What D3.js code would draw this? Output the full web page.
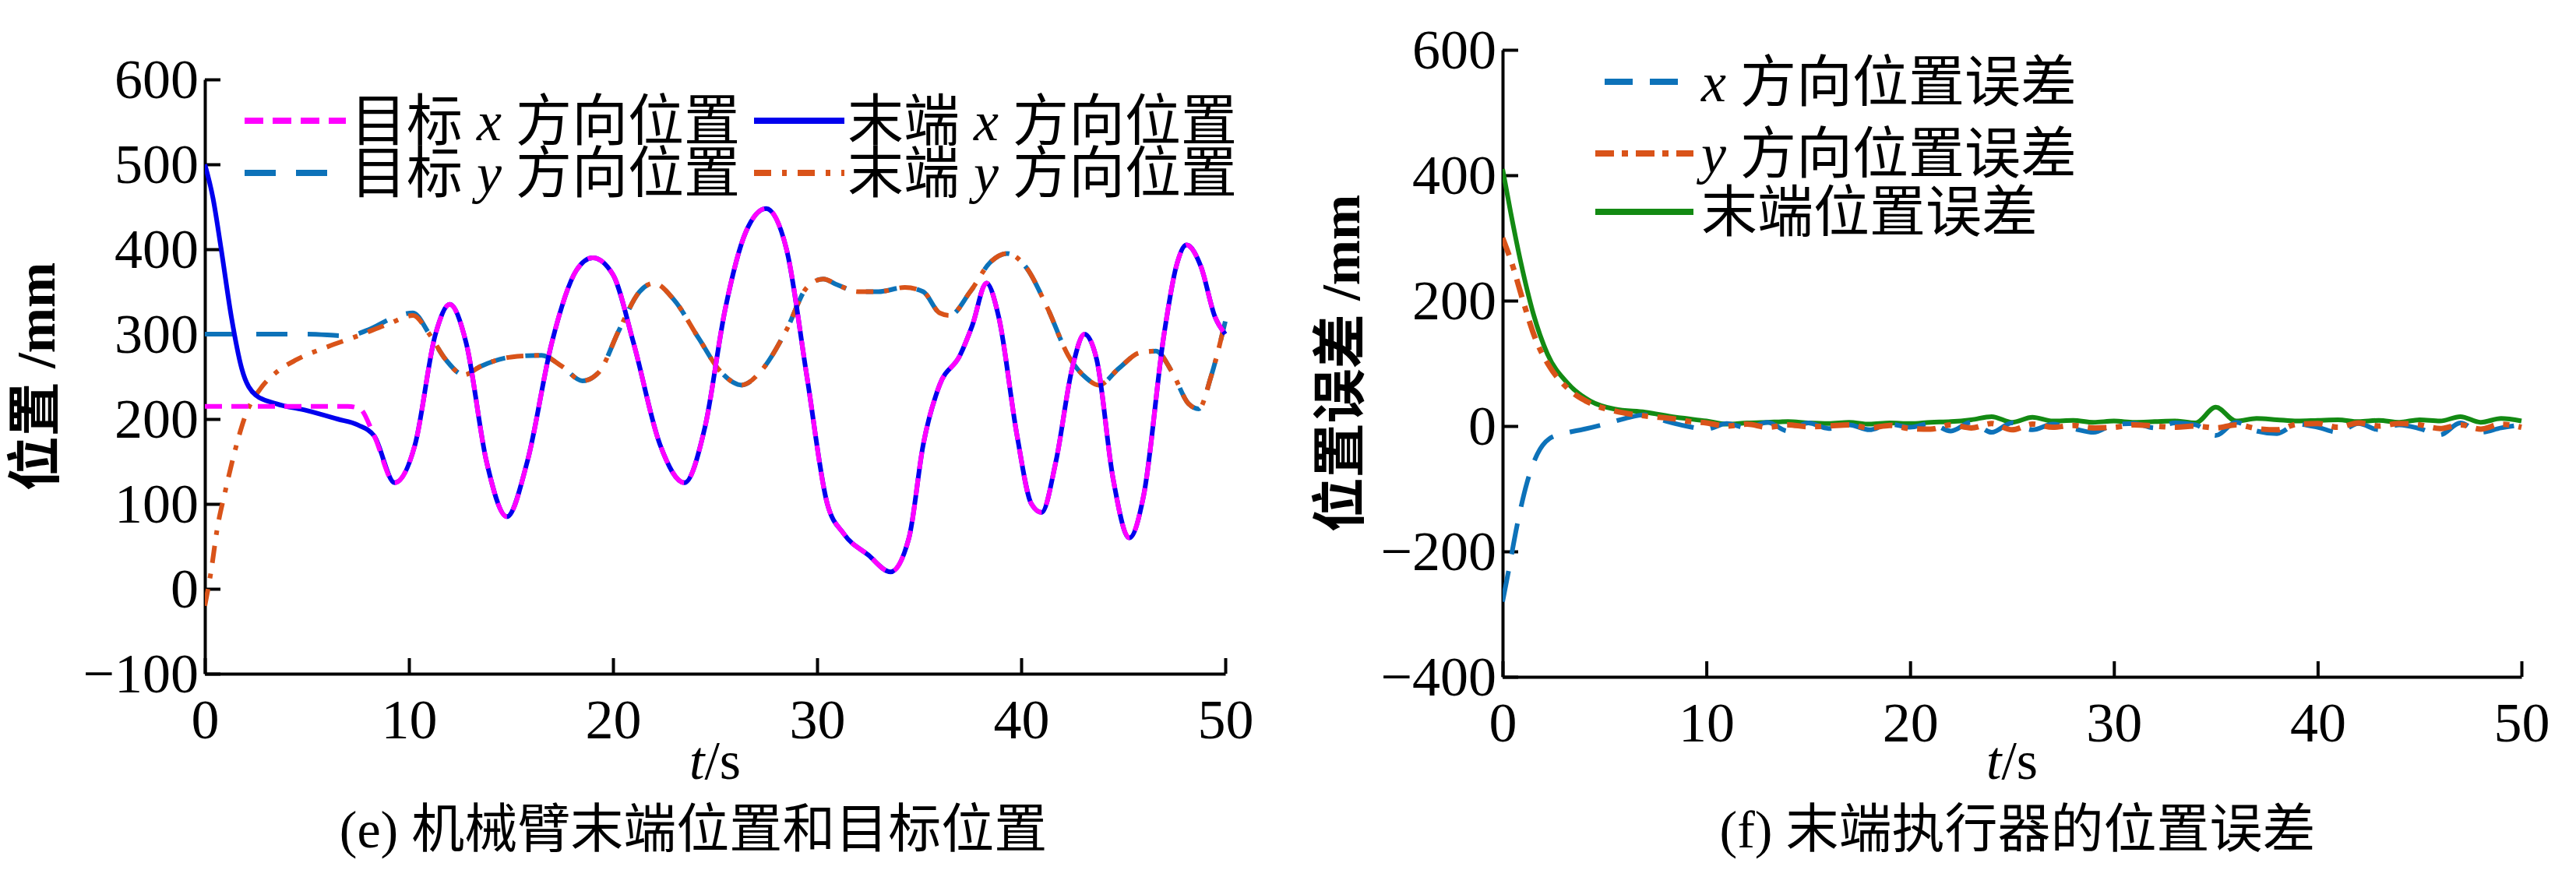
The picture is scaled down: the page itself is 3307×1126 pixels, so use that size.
<!DOCTYPE html>
<html><head><meta charset="utf-8">
<script src="https://cdn.jsdelivr.net/npm/d3@7"></script>
<style>body{margin:0;background:#fff}svg{display:block}</style></head>
<body><svg id="c" width="3307" height="1126"></svg>
<script>
// ---- data ----
const targetX = [[0,215],[7,215],[7.6,212],[8.3,180],[9.3,125],[10.3,170],[11.3,300],[12,335],[12.8,290],[13.8,150],[14.8,85],[15.8,150],[17,290],[18.2,375],[19,390],[20,370],[21,290],[22.3,170],[23.5,125],[24.5,190],[25.5,330],[26.5,420],[27.5,448],[28.5,400],[29.5,250],[30.5,100],[31.3,65],[32.5,40],[33.6,20],[34.5,60],[35.2,170],[36,240],[37,275],[37.6,310],[38.3,360],[38.9,320],[39.8,180],[40.5,100],[41,90],[41.7,150],[42.5,260],[43.1,300],[43.7,270],[44.5,130],[45.3,60],[46,110],[47,300],[47.6,380],[48.1,405],[48.8,380],[49.5,320],[50,300]];
const endXStart = [[0,500],[0.4,460],[0.8,400],[1.3,320],[1.8,260],[2.5,228],[3.5,218],[5,210],[6.5,200],[7.5,193],[8.3,180]];
const targetY = [[0,300],[5,300],[7,298],[8,305],[9.3,320],[10.2,325],[11,300],[11.8,270],[12.7,252],[13.5,262],[15,273],[16.5,275],[17.5,262],[18.5,245],[19.3,255],[20.3,305],[21.3,350],[22,360],[23,340],[24.2,295],[25.3,255],[26.3,240],[27.3,258],[28.5,305],[29.5,355],[30.3,365],[31,358],[32,350],[33,350],[34.3,355],[35.2,350],[36,325],[36.5,322],[37.5,350],[38.5,385],[39.3,395],[40.2,380],[41.3,330],[42.3,275],[43.2,248],[43.8,240],[44.8,260],[45.8,278],[46.6,280],[47.4,255],[48.2,218],[48.7,212],[49.3,250],[50,315]];
const endYStart = [[0,-20],[0.3,20],[0.6,70],[1,115],[1.5,165],[2,205],[2.7,235],[3.5,255],[4.5,270],[6,285],[7.5,298],[9,312],[10.2,322]];
const errXStart = [[0,-280],[0.3,-230],[0.7,-160],[1.2,-90],[1.7,-45],[2.3,-20],[3,-12],[4,-5],[5,3],[6,12],[7,18],[8,8]];
const errYStart = [[0,300],[0.5,255],[1,200],[1.6,140],[2.3,95],[3.2,60],[4.2,38],[5.5,24],[7,16],[8.5,11]];
const errTStart = [[0,410],[0.4,340],[0.9,260],[1.5,180],[2.2,115],[3.2,68],[4.3,40],[5.5,27],[7,22],[8.5,14]];
const noiseT = [9,10,11,12,13,14,15,16,17,18,19,20,21,22,23,24,25,26,27,28,29,30,31,32,33,34,35,36,37,38,39,40,41,42,43,44,45,46,47,48,49,50];
const noiseX = [0,-5,4,-3,6,-8,5,-4,2,-6,3,-2,4,-8,6,-10,5,-6,3,-4,-10,2,4,-3,5,2,-15,6,-8,-12,3,-2,-10,4,-6,2,-4,-14,5,-10,-3,2];
const noiseY = [8,5,0,3,-2,2,-1,0,2,-3,1,-4,-5,2,-3,4,-6,3,-2,1,-3,-2,2,0,-2,0,-3,2,-4,-6,3,4,-2,5,0,4,2,-4,2,-5,3,-2];
const noiseTot = [12,8,3,5,6,7,5,4,6,3,5,4,6,7,10,15,6,14,8,9,6,8,6,7,8,5,30,8,12,10,8,9,10,7,9,6,10,8,15,6,12,8];
const xTicks = [0,10,20,30,40,50];
const yTicksL = [-100,0,100,200,300,400,500,600];
const yTicksR = [-400,-200,0,200,400,600];

const svg = d3.select('#c');
const FONT = "'Liberation Serif','DejaVu Serif',serif";
const CJK = "'Liberation Serif','Noto Sans CJK SC',serif";

function panel(o){
  const x = d3.scaleLinear().domain([0,50]).range([o.x0,o.x1]);
  const y = d3.scaleLinear().domain(o.yd).range([o.y1,o.y0]);
  const g = svg.append('g');
  const ax = g.append('g').attr('transform',`translate(0,${o.y1})`)
    .call(d3.axisBottom(x).tickValues(xTicks).tickSizeInner(-20).tickSizeOuter(0).tickPadding(32));
  const ay = g.append('g').attr('transform',`translate(${o.x0},0)`)
    .call(d3.axisLeft(y).tickValues(o.yt).tickSizeInner(-20).tickSizeOuter(0).tickPadding(8).tickFormat(d=>d<0?'\u2212'+(-d):d));
  [ax,ay].forEach(a=>{a.attr('font-family',null).attr('font-size',null);
    a.selectAll('path,line').attr('stroke','#000').attr('stroke-width',4);
    a.selectAll('text').style('font-family',FONT).style('font-size','72px').attr('fill','#000');});
  ax.selectAll('text').attr('dy','0.71em');
  g.append('text').attr('x',(o.x0+o.x1)/2).attr('y',1000).attr('text-anchor','middle')
   .style('font-family',FONT).style('font-size','70px')
   .html('<tspan font-style="italic">t</tspan>/s');
  g.append('text').attr('transform',`translate(${o.yx},${(o.y0+o.y1)/2}) rotate(-90)`)
   .attr('text-anchor','middle').style('font-family',CJK).style('font-size','70px').attr('font-weight','bold').text(o.ylab);
  g.append('text').attr('x',o.capx).attr('y',1088).attr('text-anchor','middle')
   .style('font-family',CJK).style('font-size','68px').text(o.cap);
  const clip = 'cl'+o.x0;
  svg.append('clipPath').attr('id',clip).append('rect').attr('x',o.x0).attr('y',o.y0-20).attr('width',o.x1-o.x0+10).attr('height',o.y1-o.y0+20);
  const line = d3.line().x(d=>x(d[0])).y(d=>y(d[1])).curve(d3.curveMonotoneX);
  const pg = g.append('g').attr('clip-path',`url(#${clip})`);
  o.series.forEach(s=>pg.append('path').attr('d',line(s.d)).attr('fill','none')
     .attr('stroke',s.c).attr('stroke-width',s.w||6).attr('stroke-dasharray',s.da||null));
  o.legend.forEach(l=>{
    g.append('line').attr('x1',l.lx).attr('x2',l.lx+l.lw).attr('y1',l.y).attr('y2',l.y)
     .attr('stroke',l.c).attr('stroke-width',l.w||8).attr('stroke-dasharray',l.da||null);
    g.append('text').attr('x',l.tx).attr('y',l.y).attr('dy','0.35em').style('font-family',CJK)
     .style('font-size','72px').html(l.t);
  });
}
const xi = s=>`<tspan font-style="italic">${s}</tspan>`;
const endX = endXStart.concat(targetX.filter(d=>d[0]>8.3));
const endY = endYStart.concat(targetY.filter(d=>d[0]>10.2));
const tail = arr => noiseT.map((t,i)=>[t,arr[i]]);
const errX = errXStart.concat(tail(noiseX));
const errY = errYStart.concat(tail(noiseY));
const errT = errTStart.concat(tail(noiseTot));

panel({x0:263,x1:1573,y0:102,y1:865,yd:[-100,600],yt:yTicksL,yx:70,ylab:'位置 /mm',capx:890,cap:'(e) 机械臂末端位置和目标位置',
  series:[{d:targetY,c:'#0d72b9',da:'40,26'},{d:endY,c:'#d95319',da:'22,14,6,14'},{d:endX,c:'#0000ee'},{d:targetX,c:'#ff00ff',da:'22,12'}],
  legend:[{y:155,lx:314,lw:130,tx:450,c:'#ff00ff',da:'24,12',t:'目标 '+xi('x')+' 方向位置'},
          {y:155,lx:968,lw:116,tx:1088,c:'#0000ee',t:'末端 '+xi('x')+' 方向位置'},
          {y:222,lx:314,lw:130,tx:450,c:'#0d72b9',da:'40,26',t:'目标 '+xi('y')+' 方向位置'},
          {y:222,lx:968,lw:116,tx:1088,c:'#d95319',da:'22,14,6,14',t:'末端 '+xi('y')+' 方向位置'}]});
panel({x0:1929,x1:3237,y0:64,y1:869,yd:[-400,600],yt:yTicksR,yx:1745,ylab:'位置误差 /mm',capx:2590,cap:'(f) 末端执行器的位置误差',
  series:[{d:errT,c:'#138a13'},{d:errX,c:'#0d72b9',da:'40,22'},{d:errY,c:'#d95319',da:'24,12,8,12',w:7}],
  legend:[{y:105,lx:2060,lw:110,tx:2184,c:'#0d72b9',da:'36,22',t:xi('x')+' 方向位置误差'},
          {y:197,lx:2048,lw:126,tx:2184,c:'#d95319',da:'24,10,8,10',t:xi('y')+' 方向位置误差'},
          {y:272,lx:2048,lw:126,tx:2184,c:'#138a13',t:'末端位置误差'}]});
</script></body></html>
